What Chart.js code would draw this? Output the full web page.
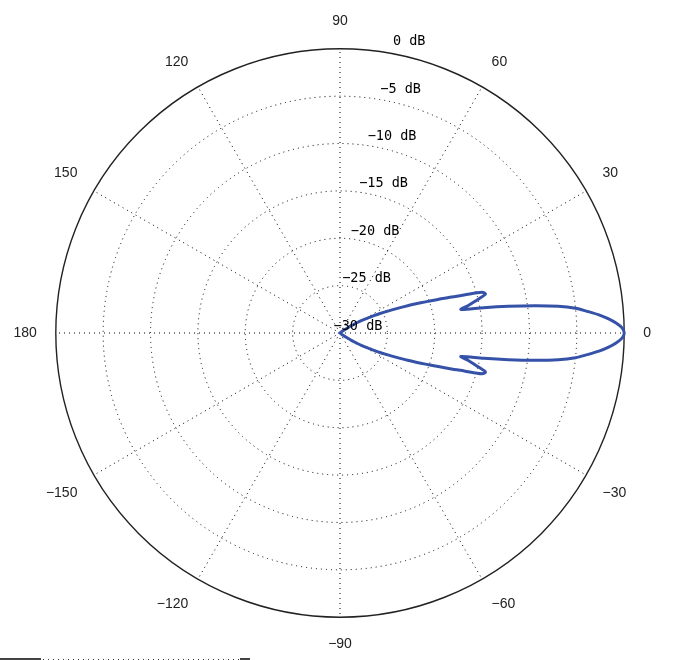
<!DOCTYPE html>
<html>
<head>
<meta charset="utf-8">
<title>Diagrama polar</title>
<script src="https://cdn.jsdelivr.net/npm/chart.js@4.4.1/dist/chart.umd.min.js"></script>
<style>
  html, body { margin: 0; padding: 0; background: #fff; }
  #wrap { width: 676px; height: 660px; position: relative; }
</style>
</head>
<body>
<div id="wrap"><canvas id="polar-chart"></canvas></div>
<script>
// angulos do lobo (graus) e ganho (dB); simetrico em torno de 0
const lobeAngles = [0, 1, 2, 3, 4, 5, 6, 7, 8, 9, 10, 11, 12, 13, 14, 15, 16, 17, 18, 19, 20,
    21, 22, 23, 24, 25, 26, 27, 28, 29, 30, 31, 32, 33, 34, 35, 36, 37, 38, 39, 40];
const lobeDb = [0, -0.2, -0.8, -1.6, -2.6, -3.8, -5.0, -6.8, -9.3, -12.0, -14.6, -17.0, -16.2,
    -15.5, -14.8, -14.1, -14.4, -16.3, -17.8, -19.2, -20.4, -21.4, -22.3, -23.2, -24.0, -24.7,
    -25.3, -25.9, -26.5, -27.0, -27.4, -27.8, -28.2, -28.6, -28.9, -29.2, -29.5, -29.7, -29.9, -30, -30];
const floorDb = -30;   // fora do lobo o diagrama fica no centro
const dbTicks = [-30, -25, -20, -15, -10, -5, 0];
const angleLabelStep = 30;

// um rotulo por grau; o indice i corresponde ao angulo -i (sentido anti-horario a partir de 0)
const labels = [];
const values = [];
for (let i = 0; i < 360; i++) {
    let ang = -i;
    if (ang <= -180) ang += 360;
    labels.push(ang);
    const k = lobeAngles.indexOf(Math.abs(ang));
    values.push(k >= 0 ? lobeDb[k] : floorDb);
}

const minus = s => String(s).replace('-', '\u2212');

// rotulos dos aneis em dB, um pouco acima de cada anel
const ringLabels = {
    id: 'ringLabels',
    afterDatasetsDraw(chart) {
        const scale = chart.scales.r;
        const ctx = chart.ctx;
        ctx.save();
        ctx.font = '13.5px "DejaVu Sans Mono"';
        ctx.fillStyle = '#000';
        ctx.textAlign = 'center';
        ctx.textBaseline = 'middle';
        scale.ticks.forEach(t => {
            const r = scale.getDistanceFromCenterForValue(t.value);
            ctx.fillText(t.label, scale.xCenter + 18 + 0.18 * r, scale.yCenter - r - 7);
        });
        ctx.restore();
    }
};

// traco cortado no canto inferior esquerdo
const bottomStub = {
    id: 'bottomStub',
    afterDraw(chart) {
        const ctx = chart.ctx;
        ctx.save();
        ctx.fillStyle = '#444';
        ctx.fillRect(0, 658, 41, 2);
        ctx.fillRect(240, 658, 10, 2);
        ctx.strokeStyle = '#333';
        ctx.lineWidth = 1;
        ctx.setLineDash([1, 4]);
        ctx.beginPath();
        ctx.moveTo(43, 659.5);
        ctx.lineTo(240, 659.5);
        ctx.stroke();
        ctx.restore();
    }
};

const config = {
    type: 'radar',
    data: {
        labels: labels,
        datasets: [{
            data: values,
            borderColor: '#3552a8',
            borderWidth: 3,
            pointRadius: 0,
            fill: false,
            tension: 0.3
        }]
    },
    options: {
        responsive: true,
        maintainAspectRatio: false,
        animation: false,
        layout: { padding: { top: 13, bottom: 7, left: 0, right: 10 } },
        plugins: { legend: { display: false }, tooltip: { enabled: false } },
        scales: {
            r: {
                min: dbTicks[0],
                max: dbTicks[dbTicks.length - 1],
                startAngle: 90,
                ticks: {
                    display: false,
                    stepSize: dbTicks[1] - dbTicks[0],
                    callback: v => minus(v) + ' dB'
                },
                grid: {
                    circular: true,
                    color: ctx => ctx.tick && ctx.tick.value === 0 ? '#222' : '#000',
                    lineWidth: ctx => ctx.tick && ctx.tick.value === 0 ? 1.4 : 1
                },
                border: {
                    dash: ctx => ctx.tick && ctx.tick.value === 0 ? [] : [1, 4]
                },
                angleLines: {
                    color: '#000',
                    lineWidth: ctx => ctx.index % angleLabelStep === 0 ? 1 : 0,
                    borderDash: [1, 4]
                },
                pointLabels: {
                    padding: 19,
                    color: '#222',
                    font: { family: '"Liberation Sans"', size: 14 },
                    callback: (label, index) => index % angleLabelStep === 0 ? minus(label) : ''
                }
            }
        }
    },
    plugins: [ringLabels, bottomStub]
};

new Chart(document.getElementById('polar-chart').getContext('2d'), config);
</script>
</body>
</html>
